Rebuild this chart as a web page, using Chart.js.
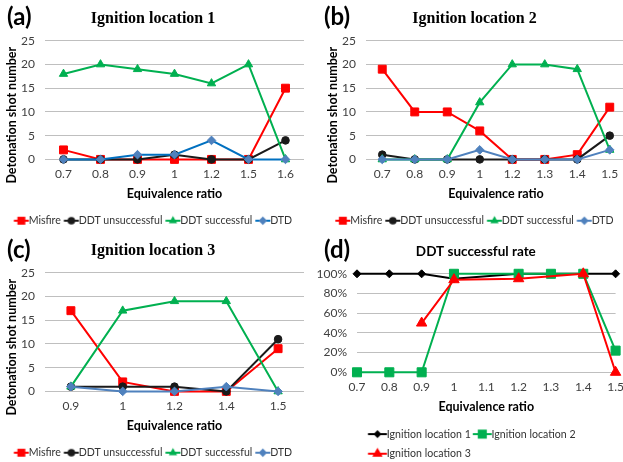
<!DOCTYPE html>
<html>
<head>
<meta charset="utf-8">
<script src="https://cdn.jsdelivr.net/npm/chart.js@4.4.1/dist/chart.umd.min.js"></script>
<style>
  body { margin: 0; background: #fff; }
  #page { position: relative; width: 623px; height: 462px; overflow: hidden; background: #fff; }
  #page canvas { position: absolute; }
  .tag { position: absolute; font: bold 24px Lato, sans-serif; color: #000; line-height: 1; }
</style>
</head>
<body>
<div id="page">
  <canvas id="chartA" width="311" height="238" style="left:0;top:0"></canvas>
  <canvas id="chartB" width="312" height="238" style="left:321px;top:0"></canvas>
  <canvas id="chartC" width="311" height="238" style="left:0;top:232px"></canvas>
  <canvas id="chartD" width="312" height="246" style="left:311px;top:225px"></canvas>
  <div class="tag" style="left:7px;top:4px">(a)</div>
  <div class="tag" style="left:324px;top:4px">(b)</div>
  <div class="tag" style="left:7px;top:237px">(c)</div>
  <div class="tag" style="left:324px;top:237px">(d)</div>
</div>
<script>
// panel (a) - ignition location 1
const ratiosA = ['0.7', '0.8', '0.9', '1', '1.2', '1.5', '1.6'];
const misfireA = [2, 0, 0, 0, 0, 0, 15];
const ddtFailA = [0, 0, 0, 1, 0, 0, 4];
const ddtOkA = [18, 20, 19, 18, 16, 20, 0];
const dtdA = [0, 0, 1, 1, 4, 0, 0];

// panel (b) - ignition location 2
const ratiosB = ['0.7', '0.8', '0.9', '1', '1.2', '1.3', '1.4', '1.5'];
const misfireB = [19, 10, 10, 6, 0, 0, 1, 11];
const ddtFailB = [1, 0, 0, 0, 0, 0, 0, 5];
const ddtOkB = [0, 0, 0, 12, 20, 20, 19, 2];
const dtdB = [0, 0, 0, 2, 0, 0, 0, 2];

// panel (c) - ignition location 3
const ratiosC = ['0.9', '1', '1.2', '1.4', '1.5'];
const misfireC = [17, 2, 0, 0, 9];
const ddtFailC = [1, 1, 1, 0, 11];
const ddtOkC = [1, 17, 19, 19, 0];
const dtdC = [1, 0, 0, 1, 0];

// panel (d) - DDT successful rate (%)
const ratiosD = ['0.7', '0.8', '0.9', '1', '1.1', '1.2', '1.3', '1.4', '1.5'];
const rateLoc1 = [100, 100, 100, 95, null, 100, null, null, 100];
const rateLoc2 = [0, 0, 0, 100, null, 100, 100, 100, 22];
const rateLoc3 = [null, null, 50, 94, null, 95, null, 100, 0];

const countTicks = [0, 5, 10, 15, 20, 25];

const sans = 'Lato, sans-serif';
const textGrey = '#404040';
const gridGrey = '#bfbfbf';

// little line+marker picture used as the legend symbol
function legendIcon(lineColor, fill, style, r, from, to, box) {
    const c = box / 2;
    const half = Math.ceil(Math.max(c - from, to - c)) + 2;
    const cv = document.createElement('canvas');
    cv.width = half * 2;
    cv.height = 16;
    const g = cv.getContext('2d');
    const x0 = half + (from - c), x1 = half + (to - c), y = 8;
    g.strokeStyle = lineColor;
    g.lineWidth = 2;
    g.beginPath(); g.moveTo(x0, y); g.lineTo(x1, y); g.stroke();
    const mx = (x0 + x1) / 2;
    g.fillStyle = fill;
    g.beginPath();
    if (style === 'rect') {
        const s = r * Math.SQRT1_2;
        g.rect(mx - s, y - s, 2 * s, 2 * s);
    } else if (style === 'circle') {
        g.arc(mx, y, r, 0, Math.PI * 2);
    } else if (style === 'triangle') {
        for (let k = 0; k < 3; k++) {
            const a = k * Math.PI * 2 / 3;
            g.lineTo(mx + Math.sin(a) * r, y - Math.cos(a) * r);
        }
        g.closePath();
    } else {
        g.moveTo(mx, y - r); g.lineTo(mx + r, y); g.lineTo(mx, y + r); g.lineTo(mx - r, y);
        g.closePath();
    }
    g.fill();
    return cv;
}

function series(label, data, lineColor, fill, style, r, order) {
    return {
        label, data, order,
        borderColor: lineColor, borderWidth: 2,
        pointStyle: style, pointRadius: r, pointHoverRadius: r,
        pointBackgroundColor: fill, pointBorderColor: fill, pointBorderWidth: 1,
        tension: 0, spanGaps: true, clip: false
    };
}

function legendOpts(from, to, box, padding, align, fullSize) {
    return {
        position: 'bottom', align, fullSize,
        labels: {
            usePointStyle: true, pointStyleWidth: box, padding,
            color: '#333', font: { family: sans, size: 10.6 },
            generateLabels: chart => chart.data.datasets.map((ds, i) => ({
                text: ds.label, datasetIndex: i, hidden: false, lineWidth: 0,
                fontColor: '#333', strokeStyle: 'transparent', fillStyle: 'transparent',
                pointStyle: legendIcon(ds.borderColor, ds.pointBackgroundColor, ds.pointStyle, ds.pointRadius, from, to, box)
            }))
        }
    };
}

// fixed axis sizes so the plot boxes land where the reference has them
function fixWidth(w) {
    return axis => { axis.width = w; axis.paddingTop = 0; axis.paddingBottom = 0; };
}
function fixHeight(h) {
    return axis => { axis.height = h; axis.paddingLeft = 0; axis.paddingRight = 0; };
}

function countChart(id, title, labels, misfire, ddtFail, ddtOk, dtd, dtdLine) {
    return new Chart(document.getElementById(id), {
        type: 'line',
        data: {
            labels,
            datasets: [
                series('Misfire', misfire, '#ff0000', '#ff0000', 'rect', 5.6, 3),
                series('DDT unsuccessful', ddtFail, '#1a1a1a', '#1a1a1a', 'circle', 3.8, 2),
                series('DDT successful', ddtOk, '#00b050', '#00b050', 'triangle', 4.8, 1),
                series('DTD', dtd, dtdLine, '#4f81bd', 'rectRot', 4.3, 0)
            ]
        },
        options: {
            responsive: false, animation: false,
            layout: { padding: { left: 2, right: 7, top: 4, bottom: 2 } },
            scales: {
                x: {
                    offset: true,
                    afterFit: fixHeight(53),
                    grid: { display: false, drawTicks: false },
                    border: { display: false },
                    ticks: { color: textGrey, font: { family: sans, size: 12 }, padding: 8 },
                    title: { display: true, text: 'Equivalence ratio', color: '#000', font: { family: sans, size: 12.5, weight: 'bold' }, padding: { top: 2, bottom: 11 } }
                },
                y: {
                    min: 0, max: 25,
                    afterFit: fixWidth(43),
                    afterBuildTicks: axis => { axis.ticks = countTicks.map(v => ({ value: v })); },
                    grid: { color: gridGrey, drawTicks: false },
                    border: { display: false },
                    ticks: { color: textGrey, font: { family: sans, size: 12 }, padding: 10 },
                    // trailing spaces push the words a little lower, as in the original
                    title: { display: true, text: 'Detonation shot number          ', color: '#000', font: { family: sans, size: 12.5, weight: 'bold' }, padding: { top: 2, bottom: 2 } }
                }
            },
            plugins: {
                title: { display: true, text: title, color: '#000', font: { family: '"Liberation Serif", serif', size: 16, weight: 'bold' }, padding: { top: 5, bottom: 12.5 } },
                legend: legendOpts(0, 15, 9.5, 3, 'center', true),
                tooltip: { enabled: false }
            }
        }
    });
}

countChart('chartA', 'Ignition location 1', ratiosA, misfireA, ddtFailA, ddtOkA, dtdA, '#0070c0');
countChart('chartB', 'Ignition location 2', ratiosB, misfireB, ddtFailB, ddtOkB, dtdB, '#4f81bd');
countChart('chartC', 'Ignition location 3', ratiosC, misfireC, ddtFailC, ddtOkC, dtdC, '#4f81bd');

// legend of (d) starts under the plot, 9px in
const nudgeLegend = { id: 'nudgeLegend', afterLayout(chart) { chart.legend.left += 9; } };

new Chart(document.getElementById('chartD'), {
    type: 'line',
    data: {
        labels: ratiosD,
        datasets: [
            series('Ignition location 1', rateLoc1, '#000000', '#000000', 'rectRot', 4, 2),
            series('Ignition location 2', rateLoc2, '#00b050', '#00b050', 'rect', 6.4, 1),
            series('Ignition location 3', rateLoc3, '#ff0000', '#ff0000', 'triangle', 6, 0)
        ]
    },
    plugins: [nudgeLegend],
    options: {
        responsive: false, animation: false,
        layout: { padding: { left: 4, right: 6, top: 4, bottom: 2 } },
        scales: {
            x: {
                offset: false,
                afterFit: fixHeight(47.5),
                grid: { display: false, drawTicks: false },
                border: { display: false },
                ticks: { color: textGrey, font: { family: sans, size: 12 }, padding: 8, autoSkip: false, maxRotation: 0 },
                title: { display: true, text: 'Equivalence ratio', color: '#000', font: { family: sans, size: 12.5, weight: 'bold' }, padding: { top: 2, bottom: 5.7 } }
            },
            y: {
                min: 0, max: 100,
                afterFit: fixWidth(42),
                ticks: { stepSize: 20, autoSkip: false, color: textGrey, font: { family: sans, size: 12 }, padding: 10, callback: v => v + '%' },
                grid: { color: gridGrey, drawTicks: false },
                border: { display: false }
            }
        },
        plugins: {
            // leading spaces move the centred title a bit right, as in the original
            title: { display: true, text: '      DDT successful rate', color: '#000', font: { family: sans, size: 13.5, weight: 'bold' }, padding: { top: 14.8, bottom: 13.8 } },
            legend: legendOpts(-7, 12, 6.5, 9, 'start', false),
            tooltip: { enabled: false }
        }
    }
});
</script>
</body>
</html>
